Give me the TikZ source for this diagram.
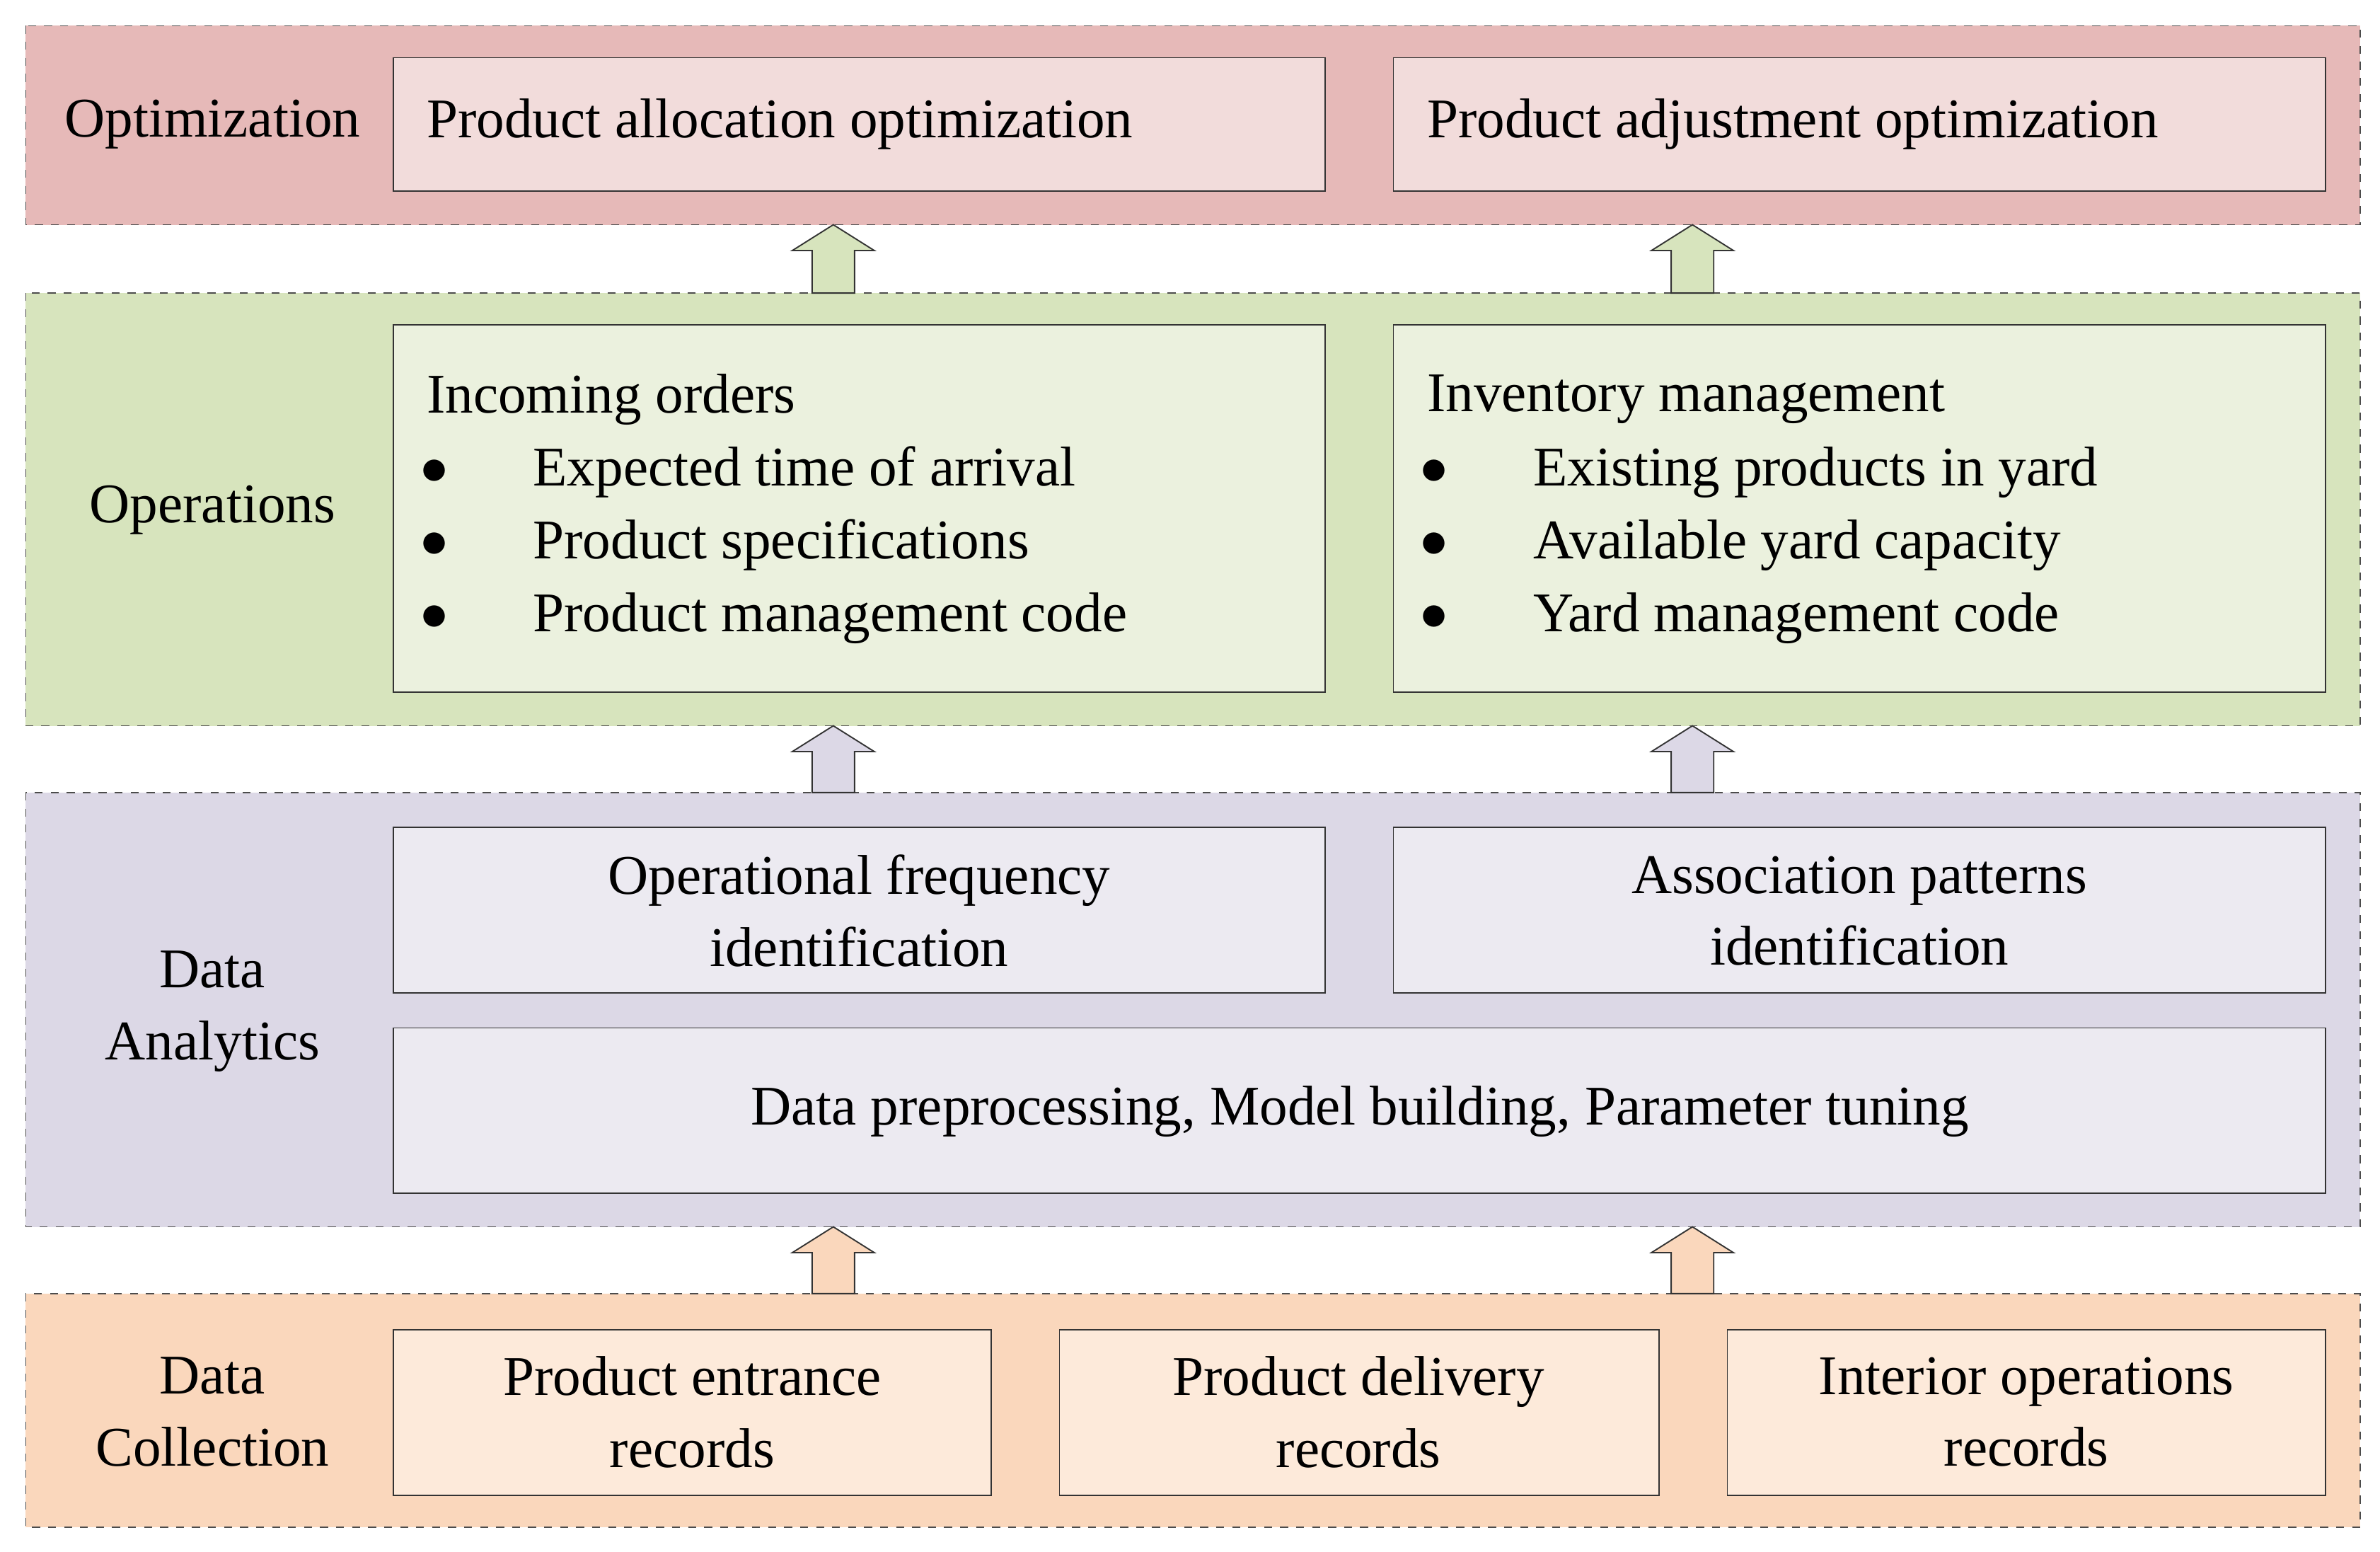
\documentclass[tikz,border=0pt]{standalone}
\usepackage{fontspec}
\setmainfont{Liberation Serif}
\begin{document}
\begin{tikzpicture}[x=0.02cm,y=-0.02cm,
 layer/.style={draw=black!70,dashed,line width=0.5pt},
 box/.style={draw=black!80,line width=0.5pt},
 txt/.style={font=\fontsize{21}{27}\selectfont,align=center},
 barrow/.style={draw=black!80,line width=0.5pt}]
\useasboundingbox (0,0) rectangle (1568,1022);
\definecolor{lo}{HTML}{E6B9B8}\definecolor{bo}{HTML}{F2DCDB}
\definecolor{lg}{HTML}{D7E4BD}\definecolor{bg}{HTML}{EBF1DE}
\definecolor{lp}{HTML}{DCD8E6}\definecolor{bp}{HTML}{ECEAF1}
\definecolor{lr}{HTML}{FAD7BC}\definecolor{br}{HTML}{FDEADA}
% layers
\fill[lo] (17,17) rectangle (1555,148); \draw[layer] (17,17) rectangle (1555,148);
\fill[lg] (17,193) rectangle (1555,478); \draw[layer] (17,193) rectangle (1555,478);
\fill[lp] (17,522) rectangle (1555,808); \draw[layer] (17,522) rectangle (1555,808);
\fill[lr] (17,852) rectangle (1555,1006); \draw[layer] (17,852) rectangle (1555,1006);
% layer labels
\node[txt] (lopt) at (140,82) {Optimization};
\node[txt] (lops) at (140,336) {Operations};
\node[txt] (lda) at (140,666) {Data\\Analytics};
\node[txt] (ldc) at (140,930) {Data\\Collection};
% boxes
\draw[box,fill=bo] (259,38) rectangle (873,126);
\node[txt,anchor=west] (o1) at (275,82) {Product allocation optimization};
\draw[box,fill=bo] (918,38) rectangle (1532,126);
\node[txt,anchor=west] (o2) at (934,82) {Product adjustment optimization};
\draw[box,fill=bg] (259,214) rectangle (873,456);
\draw[box,fill=bg] (918,214) rectangle (1532,456);
\node[txt,anchor=west] (p1) at (275,263) {Incoming orders};
\node[txt,anchor=west] (p2) at (934,263) {Inventory management};
\foreach \t [count=\i] in {Expected time of arrival,Product specifications,Product management code}{
 \node[txt] (pb\i) at (286,263+48*\i) {$\bullet$};
 \node[txt,anchor=west] (pt\i) at (345,263+48*\i) {\t};}
\foreach \t [count=\i] in {Existing products in yard,Available yard capacity,Yard management code}{
 \node[txt] (qb\i) at (945,263+48*\i) {$\bullet$};
 \node[txt,anchor=west] (qt\i) at (1004,263+48*\i) {\t};}
\draw[box,fill=bp] (259,545) rectangle (873,654);
\node[txt] (a1) at (566,600) {Operational frequency\\identification};
\draw[box,fill=bp] (918,545) rectangle (1532,654);
\node[txt] (a2) at (1225,600) {Association patterns\\identification};
\draw[box,fill=bp] (259,677) rectangle (1532,786);
\node[txt] (a3) at (896,732) {Data preprocessing, Model building, Parameter tuning};
\draw[box,fill=br] (259,876) rectangle (653,985);
\node[txt] (c1) at (456,930) {Product entrance\\records};
\draw[box,fill=br] (698,876) rectangle (1093,985);
\node[txt] (c2) at (895,930) {Product delivery\\records};
\draw[box,fill=br] (1138,876) rectangle (1532,985);
\node[txt] (c3) at (1335,930) {Interior operations\\records};
% block arrows
\foreach \x/\ya/\yb/\c in {549/193/148/lg,1115/193/148/lg,549/522/478/lp,1115/522/478/lp,549/852/808/lr,1115/852/808/lr}{
 \draw[barrow,fill=\c] (\x-14,\ya) -- (\x-14,\yb+17) -- (\x-27,\yb+17) -- (\x,\yb) -- (\x+27,\yb+17) -- (\x+14,\yb+17) -- (\x+14,\ya) -- cycle;}
\end{tikzpicture}
\end{document}
